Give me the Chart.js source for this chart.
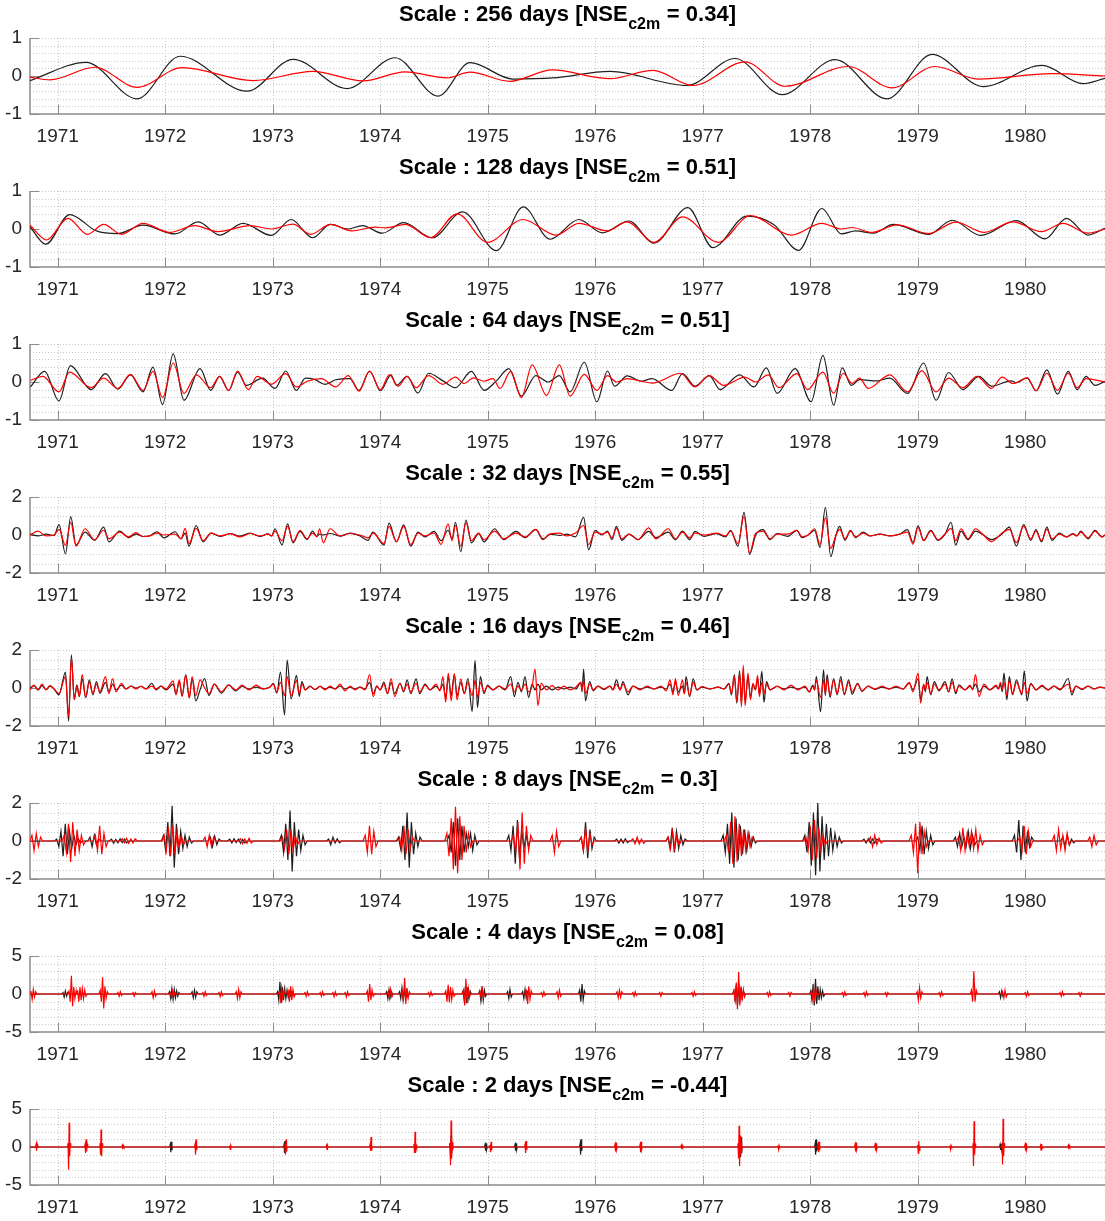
<!DOCTYPE html>
<html>
<head>
<meta charset="utf-8">
<script src="https://cdn.jsdelivr.net/npm/chart.js@4.4.1/dist/chart.umd.min.js"></script>
<style>
  html, body { margin: 0; padding: 0; background: #fff; }
  #wrap { position: relative; width: 1105px; height: 1221px; overflow: hidden; }
  #wrap canvas { position: absolute; left: 0; }
</style>
</head>
<body>
<div id="wrap"></div>
<script>
// time axis in decimal years (Oct 1970 - Sep 1980)
const X_MIN = 1970.742, X_MAX = 1980.742;
const yearTicks = [1971, 1972, 1973, 1974, 1975, 1976, 1977, 1978, 1979, 1980];

// ---- 256 days ----
const t256Meas = [1970.742, 1971.263, 1971.738, 1972.138, 1972.761, 1973.189, 1973.691, 1974.138, 1974.538, 1974.835,
  1975.235, 1975.607, 1976.138, 1976.854, 1977.300, 1977.738, 1978.231, 1978.714, 1979.133, 1979.608,
  1980.156, 1980.537, 1980.742];
const v256Meas = [-0.12, 0.36, -0.60, 0.52, -0.40, 0.44, -0.33, 0.48, -0.53, 0.35,
  -0.08, -0.05, 0.12, -0.25, 0.46, -0.49, 0.43, -0.60, 0.57, -0.28,
  0.28, -0.20, -0.06];
const t256Comp = [1970.742, 1970.928, 1971.347, 1971.738, 1972.156, 1972.817, 1973.375, 1973.840, 1974.231, 1974.622,
  1974.835, 1975.207, 1975.598, 1976.138, 1976.538, 1976.910, 1977.394, 1977.766, 1978.352, 1978.761,
  1979.161, 1979.561, 1980.249, 1980.742];
const v256Comp = [-0.03, -0.10, 0.23, -0.30, 0.22, -0.12, 0.12, -0.13, 0.11, -0.05,
  0.10, -0.14, 0.16, -0.07, 0.15, -0.25, 0.37, -0.27, 0.25, -0.31,
  0.25, -0.08, 0.06, 0.00];

// ---- 128 days ----
const t128Meas = [1970.742, 1970.888, 1971.111, 1971.360, 1971.560, 1971.793, 1972.091, 1972.307, 1972.506, 1972.723,
  1972.988, 1973.171, 1973.370, 1973.537, 1973.702, 1973.835, 1974.018, 1974.218, 1974.483, 1974.766,
  1975.081, 1975.330, 1975.580, 1975.848, 1976.064, 1976.313, 1976.546, 1976.862, 1977.095, 1977.410,
  1977.660, 1977.892, 1978.108, 1978.290, 1978.423, 1978.590, 1978.772, 1979.104, 1979.320, 1979.586,
  1979.918, 1980.184, 1980.383, 1980.583, 1980.742];
const v128Meas = [0.06, -0.40, 0.38, -0.05, -0.12, 0.10, -0.13, 0.19, -0.16, 0.15,
  -0.17, 0.25, -0.23, 0.12, 0.00, 0.09, -0.11, 0.17, -0.23, 0.45,
  -0.57, 0.58, -0.27, 0.25, -0.10, 0.21, -0.37, 0.56, -0.49, 0.34,
  0.12, -0.56, 0.54, -0.13, -0.05, -0.11, 0.12, -0.14, 0.23, -0.17,
  0.22, -0.26, 0.28, -0.16, 0.02];
const t128Comp = [1970.742, 1970.895, 1971.095, 1971.277, 1971.427, 1971.593, 1971.793, 1972.041, 1972.273, 1972.490,
  1972.789, 1972.988, 1973.188, 1973.353, 1973.537, 1973.736, 1973.952, 1974.051, 1974.234, 1974.467,
  1974.715, 1974.998, 1975.330, 1975.635, 1975.848, 1976.114, 1976.297, 1976.546, 1976.812, 1977.144,
  1977.444, 1977.825, 1978.108, 1978.290, 1978.390, 1978.573, 1978.806, 1979.104, 1979.353, 1979.620,
  1979.886, 1980.151, 1980.351, 1980.583, 1980.742];
const v128Comp = [0.10, -0.29, 0.28, -0.14, 0.12, -0.14, 0.15, -0.09, 0.09, -0.07,
  0.09, 0.00, 0.13, -0.14, 0.12, -0.05, 0.05, 0.03, 0.12, -0.23,
  0.40, -0.35, 0.25, -0.16, 0.15, -0.05, 0.19, -0.35, 0.32, -0.35,
  0.35, -0.16, 0.15, 0.00, 0.04, -0.09, 0.11, -0.12, 0.18, -0.09,
  0.19, -0.07, 0.15, -0.11, 0.00];

// ---- 64 days ----
const t64Meas = [1970.746, 1970.878, 1971.011, 1971.118, 1971.310, 1971.444, 1971.560, 1971.676, 1971.793, 1971.886,
  1971.975, 1972.074, 1972.174, 1972.324, 1972.423, 1972.506, 1972.590, 1972.673, 1972.755, 1972.905,
  1973.021, 1973.121, 1973.220, 1973.304, 1973.387, 1973.487, 1973.586, 1973.719, 1973.802, 1973.901,
  1974.002, 1974.100, 1974.151, 1974.250, 1974.351, 1974.450, 1974.583, 1974.700, 1974.848, 1974.966,
  1975.081, 1975.197, 1975.313, 1975.447, 1975.563, 1975.666, 1975.766, 1975.899, 1976.015, 1976.114,
  1976.180, 1976.297, 1976.430, 1976.528, 1976.712, 1976.812, 1976.928, 1977.061, 1977.161, 1977.343,
  1977.476, 1977.592, 1977.692, 1977.859, 1978.008, 1978.118, 1978.218, 1978.297, 1978.383, 1978.457,
  1978.622, 1978.739, 1978.905, 1979.055, 1979.171, 1979.287, 1979.420, 1979.569, 1979.686, 1979.868,
  1979.918, 1980.018, 1980.101, 1980.201, 1980.300, 1980.400, 1980.483, 1980.566, 1980.649, 1980.742];
const v64Meas = [-0.13, 0.28, -0.50, 0.43, -0.20, 0.22, -0.19, 0.19, -0.26, 0.39,
  -0.59, 0.74, -0.48, 0.35, -0.22, 0.15, -0.23, 0.26, -0.09, 0.10,
  -0.17, 0.29, -0.22, 0.10, 0.07, -0.06, 0.06, 0.09, -0.22, 0.29,
  -0.23, 0.19, -0.09, 0.15, -0.29, 0.23, 0.03, -0.15, 0.28, -0.22,
  0.03, 0.35, -0.37, 0.17, 0.00, 0.17, -0.26, 0.52, -0.52, 0.29,
  -0.11, 0.16, 0.02, 0.09, -0.22, 0.22, -0.11, 0.17, -0.20, 0.19,
  -0.13, 0.37, -0.30, 0.35, -0.52, 0.70, -0.61, 0.37, -0.09, 0.06,
  0.03, 0.10, -0.30, 0.50, -0.48, 0.25, -0.20, 0.15, -0.11, 0.03,
  -0.02, 0.11, -0.23, 0.32, -0.32, 0.28, -0.20, 0.15, -0.09, 0.02];
const t64Comp = [1970.746, 1970.862, 1971.011, 1971.111, 1971.310, 1971.427, 1971.560, 1971.676, 1971.793, 1971.886,
  1971.975, 1972.074, 1972.174, 1972.290, 1972.423, 1972.506, 1972.590, 1972.673, 1972.772, 1972.855,
  1972.988, 1973.121, 1973.220, 1973.320, 1973.453, 1973.586, 1973.702, 1973.802, 1973.901, 1974.002,
  1974.085, 1974.167, 1974.250, 1974.334, 1974.450, 1974.583, 1974.700, 1974.782, 1974.865, 1974.966,
  1975.048, 1975.114, 1975.214, 1975.313, 1975.413, 1975.546, 1975.666, 1975.766, 1975.899, 1976.015,
  1976.114, 1976.197, 1976.296, 1976.430, 1976.529, 1976.795, 1976.928, 1977.061, 1977.194, 1977.393,
  1977.491, 1977.609, 1977.709, 1977.875, 1977.975, 1978.118, 1978.218, 1978.307, 1978.390, 1978.457,
  1978.540, 1978.739, 1978.905, 1979.038, 1979.171, 1979.287, 1979.420, 1979.552, 1979.686, 1979.785,
  1979.886, 1980.018, 1980.101, 1980.201, 1980.300, 1980.400, 1980.483, 1980.566, 1980.742];
const v64Comp = [0.04, 0.15, -0.26, 0.26, -0.15, 0.10, -0.17, 0.20, -0.22, 0.28,
  -0.41, 0.50, -0.30, 0.19, -0.15, 0.15, -0.22, 0.29, -0.20, 0.15,
  -0.06, 0.22, -0.13, 0.02, 0.09, -0.13, 0.17, -0.24, 0.28, -0.20,
  0.19, -0.11, 0.15, -0.15, 0.17, -0.06, 0.13, -0.04, 0.11, 0.02,
  0.09, -0.17, 0.28, -0.41, 0.45, -0.35, 0.45, -0.37, 0.20, -0.22,
  0.17, 0.00, 0.09, 0.02, -0.03, 0.23, -0.13, 0.17, -0.09, 0.13,
  0.00, 0.19, -0.15, 0.22, -0.20, 0.26, -0.30, 0.23, -0.04, 0.10,
  -0.17, 0.19, -0.26, 0.30, -0.26, 0.10, -0.15, 0.15, -0.17, 0.13,
  -0.04, 0.11, -0.23, 0.23, -0.22, 0.23, -0.15, 0.09, 0.00];

// ---- 32 days (shared time stamps) ----
const t32 = [1970.742, 1970.817, 1970.891, 1970.966, 1971.012, 1971.072, 1971.121, 1971.170, 1971.254, 1971.343,
  1971.427, 1971.477, 1971.576, 1971.660, 1971.728, 1971.793, 1971.858, 1971.924, 1971.989, 1972.091,
  1972.147, 1972.185, 1972.221, 1972.287, 1972.352, 1972.427, 1972.510, 1972.603, 1972.696, 1972.789,
  1972.882, 1972.956, 1972.990, 1973.021, 1973.086, 1973.138, 1973.189, 1973.254, 1973.319, 1973.370,
  1973.410, 1973.436, 1973.470, 1973.533, 1973.626, 1973.719, 1973.812, 1973.886, 1973.933, 1974.035,
  1974.082, 1974.151, 1974.218, 1974.284, 1974.352, 1974.417, 1974.501, 1974.566, 1974.631, 1974.668,
  1974.700, 1974.749, 1974.798, 1974.848, 1974.915, 1974.966, 1975.064, 1975.148, 1975.263, 1975.347,
  1975.447, 1975.514, 1975.579, 1975.672, 1975.732, 1975.816, 1975.892, 1975.939, 1975.998, 1976.063,
  1976.114, 1976.156, 1976.197, 1976.247, 1976.314, 1976.398, 1976.497, 1976.563, 1976.679, 1976.746,
  1976.812, 1976.878, 1976.928, 1977.012, 1977.128, 1977.211, 1977.260, 1977.328, 1977.384, 1977.436,
  1977.493, 1977.561, 1977.626, 1977.691, 1977.793, 1977.875, 1977.924, 1977.980, 1978.041, 1978.091,
  1978.141, 1978.191, 1978.240, 1978.273, 1978.324, 1978.374, 1978.423, 1978.491, 1978.556, 1978.649,
  1978.742, 1978.835, 1978.905, 1978.956, 1979.003, 1979.055, 1979.121, 1979.189, 1979.254, 1979.310,
  1979.353, 1979.403, 1979.468, 1979.537, 1979.603, 1979.686, 1979.784, 1979.852, 1979.918, 1979.985,
  1980.051, 1980.100, 1980.151, 1980.201, 1980.249, 1980.317, 1980.383, 1980.444, 1980.480, 1980.516,
  1980.584, 1980.649, 1980.714, 1980.742];
const meas32 = [0.05, -0.05, 0.05, -0.03, 0.55, -1.00, 0.97, -0.53, 0.15, -0.28,
  0.41, -0.36, 0.20, -0.14, 0.05, -0.08, -0.04, 0.17, -0.15, 0.17,
  -0.20, 0.10, -0.59, 0.50, -0.36, 0.10, -0.08, 0.08, -0.06, 0.10,
  -0.08, 0.06, -0.05, 0.33, -0.53, 0.59, -0.41, 0.19, -0.24, 0.20,
  -0.07, 0.05, 0.00, 0.08, -0.06, 0.10, -0.05, -0.28, 0.15, -0.53,
  0.62, -0.36, 0.53, -0.59, 0.15, -0.10, 0.19, -0.30, 0.25, -0.20,
  0.67, -0.88, 0.79, -0.41, 0.07, -0.36, 0.33, -0.24, 0.19, -0.14,
  0.28, -0.24, 0.05, -0.02, 0.05, -0.10, 0.93, -0.79, 0.24, 0.00,
  0.20, -0.24, 0.45, -0.28, 0.05, -0.24, 0.19, -0.14, 0.15, -0.24,
  0.20, -0.24, 0.19, -0.07, 0.07, -0.10, 0.24, -0.59, 1.19, -1.02,
  0.00, 0.28, -0.24, 0.07, -0.07, 0.24, -0.14, 0.00, 0.24, -0.66,
  1.45, -1.14, 0.00, 0.45, -0.28, 0.24, -0.14, 0.15, -0.05, 0.05,
  -0.05, 0.05, 0.28, -0.40, 0.48, -0.28, 0.24, -0.28, 0.05, 0.67,
  -0.53, 0.20, -0.24, 0.20, 0.03, -0.24, 0.05, 0.41, -0.59, 0.55,
  -0.28, 0.28, -0.36, 0.41, -0.28, 0.10, -0.10, 0.08, -0.05, 0.20,
  -0.20, 0.24, -0.10, 0.00];
const comp32 = [0.00, 0.20, -0.05, 0.00, 0.30, -0.55, 0.67, -0.59, 0.33, -0.25,
  0.25, -0.20, 0.15, -0.10, 0.12, -0.08, -0.05, 0.10, 0.00, 0.05,
  -0.20, 0.35, -0.45, 0.35, -0.30, 0.10, -0.05, 0.06, -0.10, 0.08,
  -0.05, 0.05, -0.05, 0.20, -0.30, 0.45, -0.35, 0.25, -0.20, 0.10,
  -0.10, 0.33, -0.41, 0.33, -0.05, 0.08, 0.00, -0.15, 0.10, -0.45,
  0.45, -0.35, 0.45, -0.50, 0.10, -0.05, 0.10, -0.50, 0.59, -0.30,
  0.50, -0.60, 0.65, -0.30, 0.10, -0.25, 0.20, -0.20, 0.10, -0.10,
  0.30, -0.20, 0.05, 0.10, -0.05, 0.10, 0.50, -0.50, 0.15, 0.05,
  0.15, -0.15, 0.35, -0.20, 0.05, -0.25, 0.38, -0.20, 0.33, -0.20,
  0.15, -0.15, 0.10, 0.00, 0.10, -0.05, 0.20, -0.45, 0.98, -0.95,
  0.10, 0.20, -0.20, 0.05, 0.05, 0.25, -0.10, 0.00, 0.33, -0.50,
  0.90, -0.70, 0.00, 0.30, -0.20, 0.20, -0.10, 0.10, -0.05, 0.05,
  -0.05, 0.05, 0.15, -0.48, 0.40, -0.30, 0.20, -0.25, 0.05, 0.35,
  -0.30, 0.33, -0.20, 0.33, 0.05, -0.35, 0.10, 0.30, -0.40, 0.45,
  -0.20, 0.20, -0.30, 0.30, -0.20, 0.05, -0.10, 0.05, -0.05, 0.15,
  -0.15, 0.20, -0.10, 0.00];

// ---- 16 days (shared time stamps) ----
const t16 = [1970.742, 1970.780, 1970.817, 1970.854, 1970.891, 1970.928, 1970.966, 1971.011, 1971.072, 1971.101,
  1971.127, 1971.154, 1971.178, 1971.201, 1971.227, 1971.260, 1971.294, 1971.327, 1971.360, 1971.393,
  1971.444, 1971.476, 1971.510, 1971.542, 1971.593, 1971.635, 1971.682, 1971.728, 1971.775, 1971.821,
  1971.875, 1971.914, 1971.961, 1972.007, 1972.074, 1972.100, 1972.131, 1972.157, 1972.191, 1972.224,
  1972.250, 1972.284, 1972.324, 1972.367, 1972.407, 1972.457, 1972.523, 1972.590, 1972.656, 1972.714,
  1972.780, 1972.845, 1972.910, 1972.975, 1973.005, 1973.038, 1973.072, 1973.110, 1973.134, 1973.171,
  1973.221, 1973.247, 1973.271, 1973.304, 1973.347, 1973.394, 1973.440, 1973.487, 1973.533, 1973.579,
  1973.626, 1973.672, 1973.719, 1973.765, 1973.812, 1973.859, 1973.901, 1973.935, 1973.968, 1974.000,
  1974.034, 1974.068, 1974.101, 1974.134, 1974.184, 1974.218, 1974.250, 1974.284, 1974.334, 1974.367,
  1974.417, 1974.463, 1974.519, 1974.555, 1974.583, 1974.609, 1974.633, 1974.660, 1974.689, 1974.715,
  1974.749, 1974.782, 1974.816, 1974.855, 1974.882, 1974.905, 1974.932, 1974.965, 1974.998, 1975.049,
  1975.105, 1975.161, 1975.214, 1975.248, 1975.281, 1975.314, 1975.347, 1975.380, 1975.413, 1975.440,
  1975.467, 1975.497, 1975.546, 1975.598, 1975.654, 1975.709, 1975.765, 1975.821, 1975.865, 1975.878,
  1975.892, 1975.909, 1975.948, 1975.981, 1976.026, 1976.081, 1976.137, 1976.165, 1976.197, 1976.231,
  1976.258, 1976.304, 1976.351, 1976.417, 1976.482, 1976.547, 1976.612, 1976.660, 1976.696, 1976.723,
  1976.746, 1976.772, 1976.812, 1976.829, 1976.845, 1976.878, 1976.911, 1976.945, 1976.993, 1977.068,
  1977.142, 1977.198, 1977.244, 1977.267, 1977.294, 1977.317, 1977.343, 1977.360, 1977.377, 1977.394,
  1977.421, 1977.444, 1977.467, 1977.490, 1977.510, 1977.527, 1977.550, 1977.570, 1977.593, 1977.626,
  1977.691, 1977.756, 1977.821, 1977.886, 1977.951, 1977.991, 1978.025, 1978.040, 1978.057, 1978.096,
  1978.124, 1978.140, 1978.157, 1978.184, 1978.218, 1978.250, 1978.284, 1978.317, 1978.357, 1978.390,
  1978.440, 1978.482, 1978.538, 1978.603, 1978.668, 1978.733, 1978.798, 1978.863, 1978.922, 1978.955,
  1979.004, 1979.027, 1979.055, 1979.071, 1979.087, 1979.121, 1979.154, 1979.198, 1979.254, 1979.287,
  1979.320, 1979.353, 1979.384, 1979.440, 1979.486, 1979.510, 1979.537, 1979.570, 1979.616, 1979.672,
  1979.728, 1979.750, 1979.769, 1979.786, 1979.802, 1979.829, 1979.852, 1979.882, 1979.918, 1979.968,
  1979.991, 1980.017, 1980.051, 1980.100, 1980.156, 1980.212, 1980.268, 1980.324, 1980.400, 1980.433,
  1980.472, 1980.528, 1980.584, 1980.640, 1980.695, 1980.742];
const meas16 = [0.00, 0.12, -0.10, 0.12, -0.08, 0.10, -0.05, -0.36, 0.84, -1.74,
  1.75, -0.62, 0.17, -0.45, 0.50, -0.50, 0.43, -0.36, 0.34, -0.27,
  0.30, -0.20, 0.20, -0.10, 0.15, -0.05, 0.10, 0.00, 0.08, -0.05,
  0.25, -0.10, 0.10, -0.10, 0.20, -0.30, 0.35, -0.40, 0.70, -0.50,
  0.50, -0.68, -0.10, 0.50, -0.40, 0.20, -0.27, 0.17, -0.15, 0.08,
  -0.05, 0.05, -0.05, 0.05, 0.25, -0.27, 0.84, -1.42, 1.47, -0.57,
  0.66, -0.45, 0.34, -0.10, 0.10, -0.08, 0.08, -0.05, 0.05, -0.05,
  0.10, -0.05, 0.05, -0.05, 0.05, -0.05, 0.30, -0.30, 0.10, -0.10,
  0.31, -0.30, 0.30, -0.30, 0.25, -0.20, 0.43, -0.30, 0.48, -0.30,
  0.20, -0.10, 0.10, -0.10, 0.20, -0.50, 0.60, -0.40, 0.70, -0.40,
  0.30, -0.30, 0.50, -1.24, 1.45, -1.03, 0.60, -0.30, 0.15, -0.10,
  0.10, -0.10, 0.60, -0.45, 0.30, -0.20, 0.60, -0.50, 0.20, -0.10,
  0.20, -0.10, 0.10, -0.10, 0.05, -0.05, 0.05, -0.05, 0.30, -0.20,
  1.00, -0.68, 0.34, -0.15, 0.10, -0.08, 0.10, -0.10, 0.43, -0.10,
  0.34, -0.36, 0.10, -0.05, 0.05, -0.05, 0.05, -0.05, 0.20, -0.20,
  0.30, -0.20, 0.10, -0.30, 0.60, -0.45, 0.48, -0.10, 0.05, -0.05,
  0.05, -0.05, 0.25, -0.36, 0.70, -0.80, 0.90, -0.80, 0.90, -0.70,
  0.60, -0.50, 0.20, -0.10, 0.50, -0.30, 0.87, -0.75, 0.34, -0.10,
  0.08, -0.05, 0.05, -0.05, 0.05, -0.20, 0.15, -0.10, 0.60, -1.24,
  0.96, -0.40, 0.70, -0.50, 0.50, -0.36, 0.60, -0.36, 0.43, -0.33,
  0.25, -0.18, 0.10, -0.08, 0.05, -0.05, 0.05, -0.05, 0.25, -0.10,
  0.50, -0.60, 0.15, -0.20, 0.60, -0.36, 0.34, -0.15, 0.34, -0.20,
  0.48, -0.30, 0.17, -0.10, 0.10, -0.05, 0.20, -0.20, 0.10, -0.10,
  0.10, -0.05, 0.20, -0.20, 0.78, -0.62, 0.60, -0.36, 0.43, -0.36,
  0.90, -0.68, 0.25, -0.10, 0.10, -0.10, 0.10, -0.10, 0.50, -0.36,
  0.10, -0.08, 0.10, -0.05, 0.05, 0.00];
const comp16 = [-0.10, 0.15, -0.10, 0.20, -0.10, 0.12, -0.05, -0.30, 0.60, -1.50,
  1.58, -0.60, 0.10, -0.45, 0.70, -0.50, 0.30, -0.30, 0.20, -0.20,
  0.60, -0.30, 0.50, -0.20, 0.25, -0.05, 0.10, -0.05, 0.10, -0.05,
  0.10, -0.05, 0.10, -0.05, 0.38, -0.36, 0.43, -0.45, 0.66, -0.54,
  0.60, -0.40, 0.43, 0.00, -0.30, 0.20, -0.20, 0.15, -0.10, 0.15,
  -0.10, 0.15, -0.05, 0.05, 0.20, -0.20, 0.30, -0.40, 0.60, -0.40,
  0.40, -0.30, 0.20, -0.10, 0.08, -0.08, 0.10, -0.10, 0.10, -0.05,
  0.20, -0.15, 0.10, -0.10, 0.05, -0.10, 0.70, -0.45, 0.10, -0.10,
  0.20, -0.30, 0.50, -0.45, 0.25, -0.15, 0.20, -0.20, 0.25, -0.20,
  0.15, -0.10, 0.20, -0.15, 0.60, -0.75, 0.78, -0.68, 0.76, -0.62,
  0.48, -0.30, 0.30, -0.40, 0.40, -0.50, 0.30, -0.20, 0.10, -0.10,
  0.10, -0.05, 0.20, -0.20, 0.10, -0.10, 0.20, -0.20, 0.10, 1.00,
  -0.93, 0.25, -0.10, 0.12, -0.10, 0.10, -0.10, 0.05, 0.30, -0.10,
  0.40, -0.30, 0.20, -0.10, 0.10, -0.05, 0.10, -0.10, 0.20, -0.10,
  0.20, -0.20, 0.10, -0.10, 0.10, -0.05, 0.10, -0.15, 0.43, -0.36,
  0.50, -0.40, 0.43, -0.30, 0.30, -0.40, 0.30, -0.10, 0.08, -0.05,
  0.05, -0.05, 0.20, -0.30, 0.60, -0.70, 0.80, -0.98, 1.19, -0.93,
  0.78, -0.62, 0.25, -0.10, 0.66, -0.45, 0.30, -0.30, 0.20, -0.10,
  0.10, -0.10, 0.15, -0.10, 0.10, -0.20, 0.10, -0.10, 0.40, -0.50,
  0.40, -0.30, 0.50, -0.40, 0.40, -0.30, 0.40, -0.30, 0.30, -0.20,
  0.20, -0.15, 0.10, -0.05, 0.10, -0.05, 0.10, -0.05, 0.30, -0.20,
  0.78, -0.80, 0.20, -0.10, 0.30, -0.30, 0.20, -0.10, 0.20, -0.20,
  0.30, -0.20, 0.10, -0.10, 0.15, -0.10, 0.70, -0.45, 0.20, -0.10,
  0.15, -0.05, 0.30, -0.10, 0.30, -0.40, 0.40, -0.30, 0.30, -0.30,
  0.30, -0.30, 0.20, -0.10, 0.15, -0.10, 0.10, -0.05, 0.20, -0.20,
  0.10, -0.05, 0.10, -0.05, 0.05, 0.00];

// ---- 8, 4 and 2 days: bursts of [start year, value, value, ...] ----
const step8 = 0.02;
const bursts8Meas = [
  [1970.990, 0.1, -0.3, 0.5, -0.8, 0.9, -0.7, 0.5, -0.4, 0.3, -0.2, 0.15, -0.1],
  [1971.300, 0.2, -0.3, 0.3, -0.2, 0.1],
  [1971.500, 0.1, -0.12, 0.08, -0.1, 0.12, -0.08, 0.1, -0.1],
  [1971.984, 0.3, -0.5, 1.0, -0.8, 1.85, -1.4, 0.9, -0.7, 0.5, -0.4, 0.3, -0.3, 0.2, -0.1],
  [1972.420, 0.2, -0.3, 0.25, -0.2, 0.1],
  [1972.600, 0.1, -0.1, 0.12, -0.08, 0.1, -0.12, 0.08, -0.1],
  [1973.081, 0.3, -0.6, 0.9, -1.0, 1.6, -1.6, 1.0, -0.8, 0.6, -0.5, 0.3, -0.2],
  [1973.520, 0.1, -0.2, 0.2, -0.1, 0.12, -0.1],
  [1974.170, 0.2, -0.4, 0.8, -1.0, 1.5, -1.4, 1.0, -0.7, 0.4, -0.3, 0.2],
  [1974.640, 0.3, -0.6, 1.0, -1.3, 1.2, -1.0, 0.8, -0.6, 0.4, -0.3, 0.4, -0.5, 0.3, -0.2],
  [1975.196, 0.3, -0.5, 0.8, -1.2, 1.1, -0.9, 0.6, -0.4, 0.3, -0.2],
  [1975.870, 0.2, -0.5, 1.0, -0.9, 0.6, -0.4, 0.2],
  [1976.200, 0.1, -0.12, 0.1, -0.1, 0.12, -0.08],
  [1976.676, 0.2, -0.4, 0.7, -0.6, 0.5, -0.4, 0.3, -0.2, 0.1],
  [1977.190, 0.3, -0.6, 0.9, -1.2, 1.5, -1.4, 1.2, -1.0, 0.8, -0.7, 0.6, -0.5, 0.4, -0.3, 0.2, -0.1],
  [1977.950, 0.3, -0.6, 1.0, -1.3, 1.5, -1.8, 2.0, -1.6, 1.3, -1.0, 0.9, -0.8, 0.7, -0.5, 0.4, -0.3, 0.2, -0.1],
  [1978.500, 0.1, -0.1, 0.12, -0.1, 0.1, -0.12, 0.1],
  [1979.000, 0.2, -0.5, 0.8, -0.7, 0.5, -0.4, 0.3, -0.2],
  [1979.350, 0.2, -0.3, 0.4, -0.3, 0.2, -0.3, 0.5, -0.4, 0.3, -0.2],
  [1979.900, 0.3, -0.6, 1.1, -1.0, 0.8, -0.6, 0.4, -0.3, 0.2],
  [1980.350, 0.2, -0.3, 0.3, -0.2, 0.1, -0.1]
];
const bursts8Comp = [
  [1970.760, 0.3, -0.5, 0.4, -0.3, 0.2],
  [1971.060, 0.3, -0.6, 0.9, -1.1, 1.0, -0.8, 0.6, -0.5, 0.3, -0.2],
  [1971.350, 0.3, -0.5, 0.8, -0.7, 0.4, -0.3],
  [1971.600, 0.12, -0.1, 0.15, -0.12, 0.1, -0.1, 0.12],
  [1971.990, 0.3, -0.5, 0.7, -0.8, 0.8, -0.7, 0.5, -0.4, 0.3, -0.2],
  [1972.370, 0.2, -0.3, 0.3, -0.3, 0.2],
  [1972.700, 0.12, -0.15, 0.1, -0.12, 0.15, -0.1],
  [1973.090, 0.2, -0.4, 0.6, -0.7, 0.6, -0.5, 0.3, -0.2],
  [1973.860, 0.3, -0.6, 0.8, -0.7, 0.5, -0.3],
  [1974.180, 0.2, -0.5, 0.8, -0.7, 0.6, -0.4, 0.2],
  [1974.620, 0.4, -0.8, 1.2, -1.5, 1.8, -1.7, 1.3, -1.0, 0.8, -0.6, 0.4, -0.3],
  [1975.240, 0.3, -0.6, 1.0, -1.5, 1.5, -1.2, 0.8, -0.5, 0.3],
  [1975.600, 0.3, -0.6, 0.5, -0.3],
  [1975.870, 0.2, -0.5, 0.7, -0.6, 0.4, -0.2],
  [1976.350, 0.12, -0.15, 0.2, -0.15, 0.1, -0.12],
  [1976.680, 0.2, -0.4, 0.5, -0.4, 0.3, -0.2],
  [1977.220, 0.3, -0.6, 1.0, -1.2, 1.3, -1.1, 0.9, -0.8, 0.6, -0.5, 0.4, -0.3, 0.2],
  [1977.960, 0.2, -0.5, 0.8, -1.0, 1.1, -0.9, 0.7, -0.5, 0.3, -0.2],
  [1978.560, 0.2, -0.3, 0.3, -0.2, 0.15, -0.1],
  [1978.940, 0.3, -0.6, 0.9, -1.7, 1.0, -0.7, 0.5, -0.3],
  [1979.380, 0.2, -0.5, 0.7, -0.5, 0.4, -0.3, 0.5, -0.4, 0.6, -0.5, 0.3, -0.2],
  [1979.950, 0.2, -0.5, 0.8, -0.7, 0.5, -0.3],
  [1980.270, 0.3, -0.5, 0.6, -0.4, 0.3, -0.5, 0.4, -0.2],
  [1980.600, 0.2, -0.3, 0.3, -0.2]
];

const step4 = 0.011;
const bursts4Meas = [
  [1971.049, 0.2, -0.4, 0.4, -0.3, 0.2],
  [1972.040, 0.3, -0.6, 0.7, -0.7, 0.6, -0.5, 0.4, -0.3, 0.2],
  [1972.250, 0.3, -0.5, 0.5, -0.4, 0.3],
  [1973.045, 0.3, -0.8, 1.6, -1.2, 0.9, -0.8, 0.7, -0.6, 0.5, -0.4, 0.3, -0.2, 0.3, -0.2],
  [1974.060, 0.3, -0.6, 0.6, -0.4, 0.3],
  [1974.180, 0.3, -0.6, 0.8, -0.8, 0.6, -0.5, 0.4, -0.3],
  [1974.770, 0.4, -0.8, 1.0, -1.2, 0.9, -0.6, 0.4],
  [1974.925, 0.4, -0.9, 1.0, -0.8, 0.5, -0.3],
  [1975.185, 0.3, -0.6, 0.6, -0.4],
  [1975.325, 0.3, -0.6, 0.6, -0.5, 0.3],
  [1975.855, 0.5, -1.0, 1.3, -0.8, 0.4],
  [1977.290, 0.4, -0.8, 1.2, -1.5, 1.3, -1.0, 0.8, -0.6, 0.4],
  [1978.005, 0.4, -0.8, 1.3, -1.5, 2.0, -1.3, 1.0, -0.8, 0.6, -0.5, 0.4, -0.3],
  [1979.760, 0.3, -0.5, 0.4, -0.3]
];
const bursts4Comp = [
  [1970.751, 0.4, -0.7, 0.6, -0.4, 0.3],
  [1971.105, 0.4, -1.0, 2.4, -1.6, 0.9, -0.6, 0.4],
  [1971.185, 0.5, -1.0, 0.9, -0.8, 0.7, -0.6, 0.5, -0.3],
  [1971.395, 0.5, -1.0, 2.2, -1.9, 1.0, -0.6, 0.3],
  [1971.560, 0.2, -0.3, 0.3, -0.2],
  [1971.700, 0.2, -0.3, 0.2],
  [1971.877, 0.3, -0.5, 0.4, -0.3],
  [1972.047, 0.2, -0.4, 0.4, -0.3, 0.2],
  [1972.350, 0.2, -0.3, 0.3, -0.2],
  [1972.500, 0.2, -0.35, 0.3, -0.2],
  [1972.661, 0.3, -0.6, 0.6, -0.5, 0.3],
  [1973.061, 0.3, -0.7, 0.8, -0.6, 0.4],
  [1973.144, 0.4, -1.0, 1.0, -0.8, 0.6, -0.4],
  [1973.300, 0.2, -0.3, 0.3, -0.2],
  [1973.442, 0.2, -0.3, 0.3, -0.2],
  [1973.560, 0.2, -0.35, 0.3, -0.2],
  [1973.674, 0.2, -0.4, 0.3, -0.2],
  [1973.880, 0.4, -1.0, 1.3, -0.8, 0.5, -0.3],
  [1974.075, 0.3, -0.6, 0.6, -0.4],
  [1974.205, 0.4, -0.9, 2.1, -1.3, 0.8, -0.5, 0.3],
  [1974.450, 0.2, -0.3, 0.3, -0.2],
  [1974.610, 0.4, -1.0, 1.2, -1.1, 0.9, -0.7, 0.5, -0.3],
  [1974.775, 0.5, -1.5, 2.0, -1.2, 0.7, -0.4],
  [1974.929, 0.3, -0.6, 0.6, -0.4],
  [1975.360, 0.4, -1.3, 1.0, -0.7, 0.4],
  [1975.500, 0.2, -0.3, 0.3, -0.2],
  [1975.645, 0.3, -0.5, 0.5, -0.3],
  [1976.203, 0.3, -0.5, 0.5, -0.4, 0.3],
  [1976.350, 0.2, -0.3, 0.3, -0.2],
  [1976.600, 0.2, -0.3, 0.2],
  [1976.900, 0.2, -0.3, 0.3, -0.2],
  [1977.290, 0.5, -1.0, 1.5, -2.0, 2.9, -1.5, 1.0, -0.8, 0.6, -0.4],
  [1977.600, 0.2, -0.3, 0.3, -0.2],
  [1977.800, 0.2, -0.3, 0.2],
  [1978.010, 0.3, -0.6, 0.8, -0.7, 0.5, -0.3],
  [1978.300, 0.2, -0.3, 0.3, -0.2],
  [1978.500, 0.2, -0.35, 0.3, -0.2],
  [1978.700, 0.2, -0.3, 0.2],
  [1978.995, 0.3, -0.8, 0.8, -0.5, 0.3],
  [1979.200, 0.2, -0.3, 0.3, -0.2],
  [1979.500, 0.5, -1.0, 3.0, -1.0, 0.5],
  [1979.790, 0.3, -0.5, 0.5, -0.4],
  [1980.000, 0.2, -0.3, 0.3, -0.2],
  [1980.324, 0.2, -0.3, 0.3, -0.2],
  [1980.500, 0.2, -0.3, 0.2]
];

const step2 = 0.005;
const bursts2Meas = [
  [1972.047, 0.3, -0.7, 0.7, -0.4],
  [1973.105, 0.3, -0.8, 0.8, -0.5],
  [1974.649, 0.5, -1.5, 1.5, -1.0, 0.5],
  [1974.975, 0.3, -0.5, 0.5, -0.3],
  [1975.254, 0.3, -0.5, 0.5, -0.3],
  [1975.859, 0.4, -1.0, 1.0, -0.5],
  [1977.347, 0.5, -1.3, 1.3, -0.8],
  [1978.045, 0.4, -1.0, 1.0, -0.6, 0.3],
  [1979.766, 0.3, -0.4, 0.4, -0.3]
];
const bursts2Comp = [
  [1970.798, 0.3, -0.5, 0.4],
  [1971.096, 0.5, -3.0, 3.2, -1.2, 0.5],
  [1971.254, 0.3, -0.8, 1.0, -0.6, 0.4],
  [1971.393, 0.5, -1.0, 2.3, -1.2, 0.5],
  [1971.600, 0.2, -0.3, 0.2],
  [1972.277, 0.3, -1.0, 1.0, -0.4],
  [1972.600, 0.2, -0.3, 0.2],
  [1973.114, 0.4, -1.0, 1.0, -0.6],
  [1973.500, 0.2, -0.3, 0.2],
  [1973.905, 0.3, -0.5, 1.3, -0.5],
  [1974.314, 0.4, -0.8, 2.0, -0.8, 0.3],
  [1974.649, 0.5, -2.4, 3.5, -1.5, 0.7, -0.4],
  [1975.021, 0.3, -0.7, 0.7, -0.4],
  [1975.347, 0.3, -0.8, 0.8, -0.4],
  [1976.184, 0.3, -0.6, 0.6, -0.3],
  [1976.417, 0.3, -0.7, 0.7, -0.3],
  [1976.800, 0.2, -0.3, 0.2],
  [1977.328, 0.5, -1.5, 2.8, -2.5, 1.5, -1.0, 0.6, -0.3],
  [1977.700, 0.2, -0.3, 0.2],
  [1978.073, 0.3, -0.7, 0.7, -0.4],
  [1978.417, 0.3, -0.6, 0.6, -0.3],
  [1978.603, 0.3, -0.5, 0.5, -0.3],
  [1979.000, 0.3, -0.8, 0.8, -0.4],
  [1979.300, 0.2, -0.3, 0.2],
  [1979.514, 0.5, -2.5, 3.4, -1.0, 0.4],
  [1979.784, 0.5, -2.3, 3.7, -1.2, 0.5],
  [1979.998, 0.3, -0.5, 0.5, -0.3],
  [1980.142, 0.2, -0.4, 0.4, -0.2],
  [1980.400, 0.2, -0.3, 0.2]
];

function fromPairs(t, v) {
  return t.map((x, i) => ({ x: x, y: v[i] }));
}

function fromBursts(bursts, step) {
  const pts = [{ x: X_MIN, y: 0 }, { x: X_MAX, y: 0 }];
  bursts.forEach(b => {
    const t0 = b[0];
    pts.push({ x: t0 - step, y: 0 });
    for (let i = 1; i < b.length; i++) pts.push({ x: t0 + (i - 1) * step, y: b[i] });
    pts.push({ x: t0 + (b.length - 1) * step, y: 0 });
  });
  return pts.sort((a, b) => a.x - b.x);
}

const panels = [
  { days: 256, nse: '0.34', lim: 1, minor: 0.2, smooth: true, meas: fromPairs(t256Meas, v256Meas), comp: fromPairs(t256Comp, v256Comp) },
  { days: 128, nse: '0.51', lim: 1, minor: 0.2, smooth: true, meas: fromPairs(t128Meas, v128Meas), comp: fromPairs(t128Comp, v128Comp) },
  { days: 64, nse: '0.51', lim: 1, minor: 0.2, smooth: true, meas: fromPairs(t64Meas, v64Meas), comp: fromPairs(t64Comp, v64Comp) },
  { days: 32, nse: '0.55', lim: 2, minor: 0.5, smooth: true, meas: fromPairs(t32, meas32), comp: fromPairs(t32, comp32) },
  { days: 16, nse: '0.46', lim: 2, minor: 0.5, smooth: true, meas: fromPairs(t16, meas16), comp: fromPairs(t16, comp16) },
  { days: 8, nse: '0.3', lim: 2, minor: 0.5, smooth: false, meas: fromBursts(bursts8Meas, step8), comp: fromBursts(bursts8Comp, step8) },
  { days: 4, nse: '0.08', lim: 5, minor: 1, smooth: false, meas: fromBursts(bursts4Meas, step4), comp: fromBursts(bursts4Comp, step4) },
  { days: 2, nse: '-0.44', lim: 5, minor: 1, smooth: false, meas: fromBursts(bursts2Meas, step2), comp: fromBursts(bursts2Comp, step2) }
];

const FONT = '"Liberation Sans", Arial, Helvetica, sans-serif';
const PANEL_H = 153;
const AXIS_COLOR = '#8c8c8c';

// dotted grid, inward tick marks, left/bottom axis lines and the panel title
const frame = {
  id: 'frame',
  beforeDatasetsDraw(chart, args, o) {
    const { ctx, chartArea: a, scales: { x, y } } = chart;
    ctx.save();
    ctx.lineWidth = 1;
    ctx.strokeStyle = '#c8c8c8';
    ctx.setLineDash([1, 2]);
    const n = Math.round(o.lim / o.minor);
    for (let k = -n + 1; k <= n; k++) {
      const py = Math.round(y.getPixelForValue(k * o.minor)) + 0.5;
      ctx.beginPath(); ctx.moveTo(a.left, py); ctx.lineTo(a.right, py); ctx.stroke();
    }
    yearTicks.forEach(v => {
      const px = Math.round(x.getPixelForValue(v)) + 0.5;
      ctx.beginPath(); ctx.moveTo(px, a.top); ctx.lineTo(px, a.bottom); ctx.stroke();
    });
    ctx.setLineDash([]);
    ctx.strokeStyle = AXIS_COLOR;
    yearTicks.forEach(v => {
      const px = Math.round(x.getPixelForValue(v)) + 0.5;
      ctx.beginPath(); ctx.moveTo(px, a.bottom); ctx.lineTo(px, a.bottom - 9); ctx.stroke();
    });
    [-o.lim, 0, o.lim].forEach(v => {
      const py = Math.round(y.getPixelForValue(v)) + 0.5;
      ctx.beginPath(); ctx.moveTo(a.left, py); ctx.lineTo(a.left + 9, py); ctx.stroke();
    });
    ctx.lineWidth = 1.5;
    ctx.beginPath();
    ctx.moveTo(a.left, a.top);
    ctx.lineTo(a.left, a.bottom);
    ctx.lineTo(a.right, a.bottom);
    ctx.stroke();
    ctx.restore();
  },
  afterDraw(chart, args, o) {
    const ctx = chart.ctx;
    const a = chart.chartArea;
    const head = 'Scale : ' + o.days + ' days [NSE';
    const sub = 'c2m';
    const tail = ' = ' + o.nse + ']';
    const big = 'bold 22px ' + FONT, small = 'bold 16px ' + FONT;
    ctx.save();
    ctx.fillStyle = '#000';
    ctx.textBaseline = 'alphabetic';
    ctx.textAlign = 'left';
    ctx.font = big;
    const w1 = ctx.measureText(head).width, w3 = ctx.measureText(tail).width;
    ctx.font = small;
    const w2 = ctx.measureText(sub).width + 1;
    let tx = (a.left + a.right) / 2 - (w1 + w2 + w3) / 2;
    ctx.font = big; ctx.fillText(head, tx, 21); tx += w1;
    ctx.font = small; ctx.fillText(sub, tx + 0.5, 29); tx += w2;
    ctx.font = big; ctx.fillText(tail, tx, 21);
    ctx.restore();
  }
};

const wrap = document.getElementById('wrap');
panels.forEach((p, i) => {
  const canvas = document.createElement('canvas');
  canvas.width = 1105;
  canvas.height = PANEL_H;
  canvas.style.top = (i * PANEL_H) + 'px';
  wrap.appendChild(canvas);

  const lineOpts = p.smooth
    ? { cubicInterpolationMode: 'monotone' }
    : { tension: 0 };

  new Chart(canvas, {
    type: 'line',
    data: {
      datasets: [
        Object.assign({ label: 'computed', data: p.comp, borderColor: '#ff0000', borderWidth: 1.2, order: 0 }, lineOpts),
        Object.assign({ label: 'measured', data: p.meas, borderColor: '#1e1e1e', borderWidth: 1.2, order: 1 }, lineOpts)
      ]
    },
    options: {
      responsive: false,
      animation: false,
      devicePixelRatio: 1,
      layout: { padding: { top: 38, left: 0, right: 0, bottom: 0 } },
      elements: { point: { radius: 0 } },
      plugins: {
        legend: { display: false },
        tooltip: { enabled: false },
        frame: { days: p.days, nse: p.nse, lim: p.lim, minor: p.minor }
      },
      scales: {
        x: {
          type: 'linear',
          min: X_MIN,
          max: X_MAX,
          grid: { display: false, drawTicks: false },
          border: { display: false },
          afterBuildTicks: s => { s.ticks = yearTicks.map(v => ({ value: v })); },
          afterFit: s => { s.height = PANEL_H - 38 - 76; },
          ticks: {
            autoSkip: false, maxRotation: 0, padding: 11,
            color: '#262626', font: { family: FONT, size: 19 },
            callback: v => String(v)
          }
        },
        y: {
          min: -p.lim,
          max: p.lim,
          grid: { display: false, drawTicks: false },
          border: { display: false },
          afterBuildTicks: s => { s.ticks = [-p.lim, 0, p.lim].map(v => ({ value: v })); },
          afterFit: s => { s.width = 30; },
          ticks: {
            padding: 8,
            color: '#262626', font: { family: FONT, size: 19 },
            callback: v => String(v)
          }
        }
      }
    },
    plugins: [frame]
  });
});
</script>
</body>
</html>
